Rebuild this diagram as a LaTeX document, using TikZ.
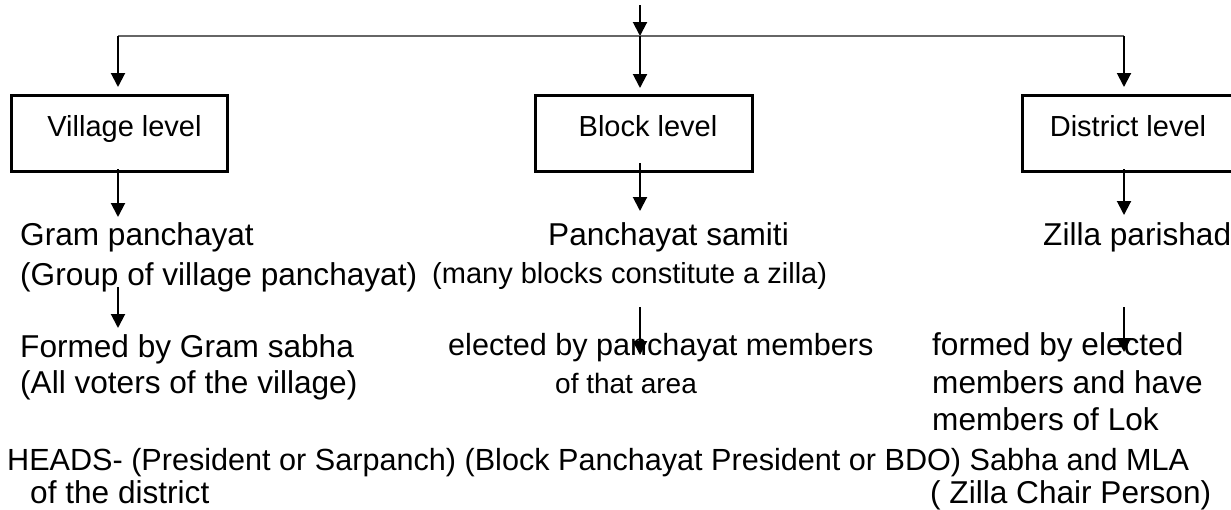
\documentclass[tikz,border=0pt]{standalone}
\usepackage{fontspec}
\setmainfont{Liberation Sans}
\usetikzlibrary{arrows.meta}
\begin{document}
\begin{tikzpicture}[x=1pt,y=-1pt,
  txt/.style={anchor=base west,inner sep=0pt,font=\fontsize{31.6}{36}\selectfont},
  txtn/.style={anchor=base west,inner sep=0pt,font=\fontsize{30.6}{36}\selectfont},
  small/.style={anchor=base west,inner sep=0pt,font=\fontsize{29}{34}\selectfont},
  smaller/.style={anchor=base west,inner sep=0pt,font=\fontsize{28}{34}\selectfont},
  lvlbox/.style={draw,line width=3pt,minimum height=76pt,inner sep=0pt},
  boxlab/.style={anchor=base,inner sep=0pt,font=\fontsize{29}{34}\selectfont},
  arr/.style={line width=2pt,-{Triangle[width=14pt,length=14pt]}},
  bar/.style={line width=2pt,draw=black!60}]
\useasboundingbox (0,0) rectangle (1231,509);
% boxes
\node[lvlbox,minimum width=216pt] (vbox) at (119.5,133.5) {};
\node[lvlbox,minimum width=217pt] (bbox) at (643.5,133.5) {};
\node[lvlbox,minimum width=230pt] (dbox) at (1137.5,133.5) {};
\node[boxlab] (vlab) at (124.5,136) {Village level};
\node[boxlab] (blab) at (648,136) {Block level};
\node[boxlab] (dlab) at (1128,136) {District level};
% top distribution
\coordinate (top) at (640,5);
\coordinate (bm) at (640,36);
\coordinate (bl) at (118,36);
\coordinate (br) at (1124,36);
\draw[arr] (top) -- (bm);
\draw[bar] (bl) -- (br);
\draw[arr] (bl) -- ([yshift=7pt]vbox.north -| bl);
\draw[arr] (bm) -- ([yshift=6pt]bbox.north -| bm);
\draw[arr] (br) -- ([yshift=7pt]dbox.north -| br);
% level 1 texts
\node[txt] (gp) at (20,245) {Gram panchayat};
\node[txt] (ps) at (548,245) {Panchayat samiti};
\node[txt] (zp) at (1043,245) {Zilla parishad};
\coordinate (gpt) at (118,217);
\coordinate (pst) at (640,211);
\coordinate (zpt) at (1124,215);
\draw[arr] ([yshift=4pt]vbox.south -| gpt) -- (gpt);
\draw[arr] ([yshift=10pt]bbox.south -| pst) -- (pst);
\draw[arr] ([yshift=4pt]dbox.south -| zpt) -- (zpt);
\node[txt] (gp2) at (20,285) {(Group of village panchayat)};
\node[small] (ps2) at (432,283) {(many blocks constitute a zilla)};
% level 2 texts
\node[txt] (fb1) at (20,357) {Formed by Gram sabha};
\node[txt] (fb2) at (20,393) {(All voters of the village)};
\node[txtn] (eb1) at (448,355) {elected by panchayat members};
\node[smaller] (eb2) at (555,393) {of that area};
\node[txt] (zf1) at (932,355) {formed by elected};
\node[txt] (zf2) at (932,393) {members and have};
\node[txt] (zf3) at (932,430) {members of Lok};
\coordinate (a1s) at (118,287); \coordinate (a1e) at (118,328);
\coordinate (a2s) at (640,307); \coordinate (a2e) at (640,355);
\coordinate (a3s) at (1124,307); \coordinate (a3e) at (1124,352);
\draw[arr] (a1s) -- (a1e);
\draw[arr] (a2s) -- (a2e);
\draw[arr] (a3s) -- (a3e);
% heads
\node[txtn] (heads) at (7,470) {HEADS- (President or Sarpanch) (Block Panchayat President or BDO) Sabha and MLA};
\node[txt] (hd2) at (30,503) {of the district};
\node[txt] (hd3) at (930,503) {( Zilla Chair Person)};
\end{tikzpicture}
\end{document}
